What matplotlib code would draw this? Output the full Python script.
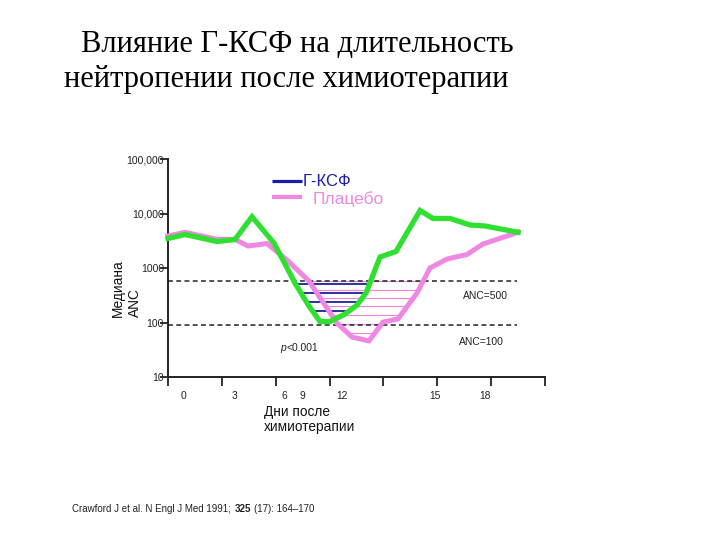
import numpy as np
import matplotlib
matplotlib.use("Agg")
import matplotlib.pyplot as plt
from matplotlib.ticker import FixedLocator, FixedFormatter, NullLocator

# ---------------- data ----------------
gcsf_days = [0.00, 0.95, 2.73, 3.73, 4.68, 5.90, 6.46, 7.07, 7.85, 8.47, 9.02,
             9.86, 10.53, 11.03, 11.81, 12.70, 14.04, 14.76, 15.71, 16.82, 17.66, 19.50]
gcsf_anc = [3480, 4120, 3060, 3330, 8730, 2870, 1290, 531, 201, 104, 104,
            143, 209, 348, 1590, 2010, 11350, 8100, 8100, 6150, 5900, 4520]

placebo_days = [0.00, 0.95, 2.73, 3.73, 4.46, 5.51, 6.63, 7.85, 9.41, 10.25, 11.20,
                11.98, 12.81, 13.87, 14.59, 15.54, 16.65, 17.55, 19.50]
placebo_anc = [3870, 4520, 3360, 3360, 2530, 2815, 1400, 577, 98, 54, 46,
               102, 116, 348, 1000, 1460, 1770, 2760, 4520]

threshold_values = [577, 90]          # dashed lines (ANC=500, ANC=100)
threshold_labels = ["ANC=500", "ANC=100"]
threshold_end = 19.45

gcsf_hatch_levels = [510, 348, 238, 163]
placebo_hatch_levels = [577, 403, 281, 197, 137, 94, 64]

ytick_values = [10, 100, 1000, 10000, 100000]
ytick_labels = ["10", "100", "1000", "10,000", "100,000"]
xtick_marks = [0, 3, 6, 9, 12, 15, 18, 21]
xlabel_texts = ["0", "3", "6", "9", "12", "15", "18"]
xlabel_pos = [0.89, 3.73, 6.46, 7.46, 9.69, 14.87, 17.66]

GREEN = "#30e030"
PINK = "#ee88e2"
BLUE = "#1c1ca8"
HATCH_BLUE = "#2a30a0"

SANS = ["Liberation Sans", "DejaVu Sans"]
SERIF = ["Liberation Serif", "DejaVu Serif"]


def dip_bounds(xs, ys, level):
    ly = np.log10(np.asarray(ys, float))
    L = np.log10(level)
    pts = []
    for i in range(len(xs) - 1):
        a, b = ly[i] - L, ly[i + 1] - L
        if a == 0:
            pts.append(xs[i])
        elif a * b < 0:
            t = a / (a - b)
            pts.append(xs[i] + t * (xs[i + 1] - xs[i]))
    return min(pts), max(pts)


fig = plt.figure(figsize=(7.2, 5.4), dpi=100)
fig.patch.set_facecolor("white")
ax = fig.add_axes([168 / 720, 1 - 377 / 540, 377 / 720, 218 / 540])
ax.set_yscale("log")
ax.set_ylim(10, 100000)
ax.set_xlim(0, 21)

# hatching
for lv in placebo_hatch_levels:
    l, r = dip_bounds(placebo_days, placebo_anc, lv)
    ax.hlines(lv, l, r, color=PINK, lw=0.9, zorder=1)
for lv in gcsf_hatch_levels:
    l, r = dip_bounds(gcsf_days, gcsf_anc, lv)
    ax.hlines(lv, l, r, color=HATCH_BLUE, lw=1.4, zorder=2)

# thresholds
for v in threshold_values:
    ax.hlines(v, 0, threshold_end, colors="#222222", linestyles=(0, (3.2, 2.2)),
              lw=1.1, zorder=3)

ax.plot(placebo_days, placebo_anc, color=PINK, lw=3.6, solid_joinstyle="miter",
        zorder=4, clip_on=False)
ax.plot(gcsf_days, gcsf_anc, color=GREEN, lw=3.8, solid_joinstyle="miter",
        zorder=5, clip_on=False)

# axes styling
for s in ["top", "right"]:
    ax.spines[s].set_visible(False)
for s in ["left", "bottom"]:
    ax.spines[s].set_linewidth(1.4)
    ax.spines[s].set_color("#222222")
ax.yaxis.set_major_locator(FixedLocator(ytick_values))
ax.yaxis.set_major_formatter(FixedFormatter(ytick_labels))
ax.yaxis.set_minor_locator(NullLocator())
ax.tick_params(axis="y", length=6, width=1.3, color="#222222", pad=-3,
               labelsize=7.5, labelcolor="#222222")
for lab in ax.get_yticklabels():
    lab.set_fontfamily(SANS)
ax.xaxis.set_major_locator(FixedLocator(xtick_marks))
ax.tick_params(axis="x", length=6.5, width=1.3, color="#222222", labelbottom=False)

xt = ax.get_xaxis_transform()
for t, p in zip(xlabel_texts, xlabel_pos):
    ax.text(p, -0.087, t, transform=xt, ha="center", va="center",
            fontsize=7.4, family=SANS, color="#222222")

# threshold labels
ax.text((463 - 168) / 377, (377 - 295.7) / 218, threshold_labels[0],
        transform=ax.transAxes, fontsize=7.4, family=SANS, ha="left",
        va="center", color="#222222")
ax.text((459 - 168) / 377, (377 - 341.7) / 218, threshold_labels[1],
        transform=ax.transAxes, fontsize=7.4, family=SANS, ha="left",
        va="center", color="#222222")

# p-value
pt = ax.text((280.5 - 168) / 377, (377 - 348) / 218, "p", transform=ax.transAxes,
             fontsize=7.4, family=SANS, style="italic", ha="left", va="center",
             color="#222222")
ax.annotate("<0.001", xy=(1, 0.5), xycoords=pt, xytext=(0.3, 0),
            textcoords="offset points", fontsize=7.4, family=SANS,
            ha="left", va="center", color="#222222")

# legend
ax.plot([(272 - 168) / 377, (302 - 168) / 377], [(377 - 181) / 218] * 2,
        transform=ax.transAxes, color=BLUE, lw=2.3, solid_capstyle="butt",
        clip_on=False)
ax.plot([(272 - 168) / 377, (302 - 168) / 377], [(377 - 197) / 218] * 2,
        transform=ax.transAxes, color=PINK, lw=3.0, solid_capstyle="butt",
        clip_on=False)
ax.text((303 - 168) / 377, (377 - 181) / 218, "Г-КСФ", transform=ax.transAxes,
        fontsize=12, family=SANS, color=BLUE, ha="left", va="center")
ax.text((313 - 168) / 377, (377 - 199) / 218, "Плацебо", transform=ax.transAxes,
        fontsize=12.5, family=SANS, color=PINK, ha="left", va="center")

# axis labels
fig.text(126.5 / 720, 1 - 288 / 540, "Медиана\nANC", rotation=90, ha="center",
         va="center", multialignment="left", fontsize=9.8, family=SANS,
         linespacing=1.25, color="#111111")
fig.text(264 / 720, 1 - 405 / 540, "Дни после\nхимиотерапии", ha="left", va="top",
         fontsize=9.8, family=SANS, linespacing=1.05, color="#111111")

# title
fig.text(81 / 720, 1 - 45 / 540, "Влияние Г-КСФ на длительность", ha="left",
         va="center", fontsize=22, family=SERIF, color="black")
fig.text(64 / 720, 1 - 80 / 540, "нейтропении после химиотерапии", ha="left",
         va="center", fontsize=22, family=SERIF, color="black")

# citation
cy = 1 - 508.5 / 540
c1 = fig.text(72 / 720, cy, "Crawford J et al. N Engl J Med 1991;",
              ha="left", va="center", fontsize=7.0, family=SANS, color="#222222")
c2 = fig.add_artist(matplotlib.text.Annotation(
    "325", xy=(1, 0.5), xycoords=c1, xytext=(2.8, 0), textcoords="offset points",
    fontsize=7.0, family=SANS, weight="bold", color="#222222",
    ha="left", va="center"))
c3 = fig.add_artist(matplotlib.text.Annotation(
    "(17): 164–170", xy=(1, 0.5), xycoords=c2, xytext=(2.3, 0),
    textcoords="offset points", fontsize=7.0, family=SANS, color="#222222",
    ha="left", va="center"))

fig.savefig("out.png", dpi=100, facecolor="white")
